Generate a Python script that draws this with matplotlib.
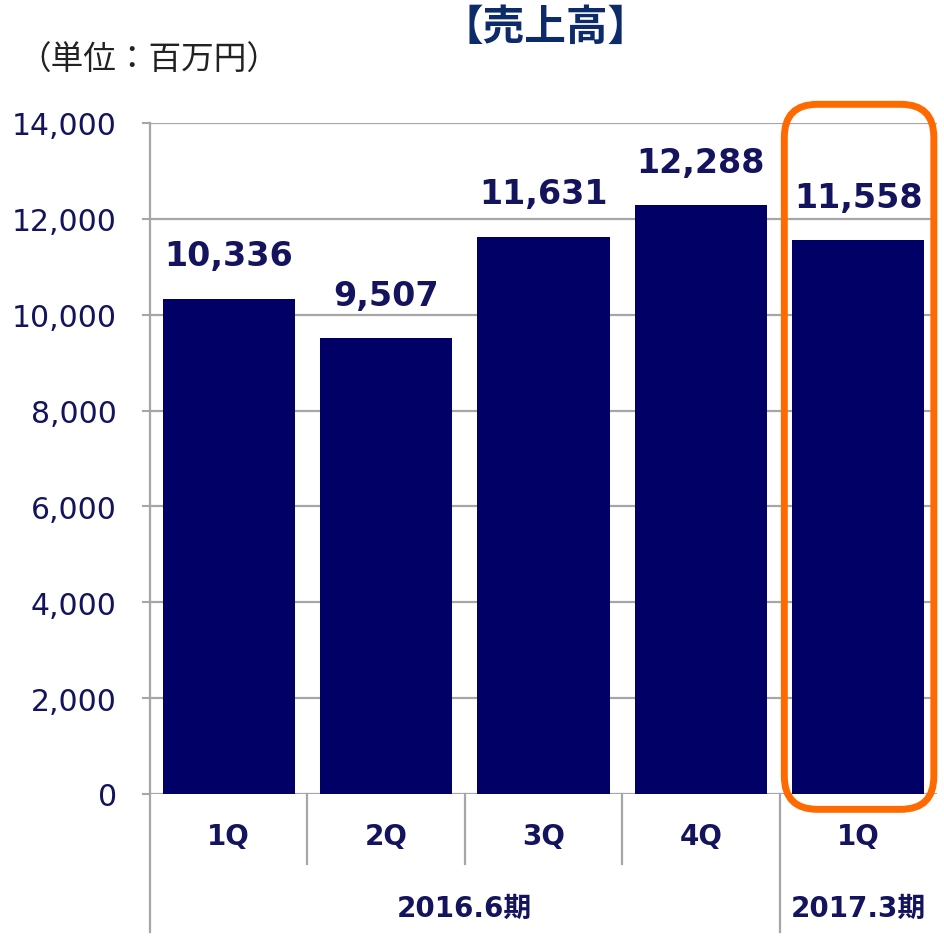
import matplotlib
matplotlib.use('Agg')
import matplotlib.pyplot as plt
from matplotlib.patches import FancyBboxPatch
from matplotlib.lines import Line2D

plt.rcParams['font.family'] = ['DejaVu Sans', 'Noto Sans CJK JP']

quarters = ['1Q', '2Q', '3Q', '4Q', '1Q']
sales = [10336, 9507, 11631, 12288, 11558]
periods = ['2016.6期', '2017.3期']
period_spans = [(0, 3), (4, 4)]
yticks = [0, 2000, 4000, 6000, 8000, 10000, 12000, 14000]

NAVY = '#000066'
TXT = '#14145e'
GRID = '#a6a6a6'

fig = plt.figure(figsize=(9.45, 9.45), dpi=100)
ax = fig.add_axes([150/945, 1-795/945, 787/945, 671/945])

x = list(range(len(sales)))
ax.bar(x, sales, width=0.84, color=NAVY, zorder=3)
for xi, v in zip(x, sales):
    ax.annotate(f'{v:,}', (xi, v), xytext=(0, 19), textcoords='offset points',
                ha='center', va='bottom', fontsize=24, fontweight='bold', color=TXT)

ax.set_xlim(-0.5, len(sales) - 0.5)
ax.set_ylim(0, 14000)
ax.set_yticks(yticks)
ax.set_yticklabels([f'{t:,}' for t in yticks], fontsize=21.5, color=TXT)
ax.tick_params(axis='y', length=6, width=1.5, color=GRID, pad=18)
ax.set_xticks([])
ax.yaxis.grid(True, color=GRID, linewidth=1.6, zorder=0)
for s in ['top', 'right', 'bottom']:
    ax.spines[s].set_visible(False)
ax.spines['left'].set_color(GRID)
ax.spines['left'].set_linewidth(1.6)

# category axis below the plot
tr = ax.get_xaxis_transform()
for xi, q in zip(x, quarters):
    ax.text(xi, -0.062, q, transform=tr, ha='center', va='center',
            fontsize=20, fontweight='bold', color=TXT)
group_starts = [a for a, b in period_spans]
for b in range(1, len(sales)):
    full = b in group_starts
    ax.add_line(Line2D([b - 0.5, b - 0.5], [0, -0.205 if full else -0.105],
                       transform=tr, color=GRID, linewidth=1.6, clip_on=False))
ax.add_line(Line2D([-0.5, -0.5], [0, -0.205], transform=tr, color=GRID,
                   linewidth=1.6, clip_on=False))
for (a, b), p in zip(period_spans, periods):
    ax.text((a + b) / 2, -0.17, p, transform=tr, ha='center', va='center',
            fontsize=20, fontweight='bold', color=TXT)

# highlight box around the latest quarter
fig.canvas.draw()
inv = fig.transFigure.inverted()
x0, y0 = inv.transform(ax.transData.transform((len(sales) - 1.47, -320)))
x1, y1 = inv.transform(ax.transData.transform((len(sales) - 0.52, 14390)))
pad = 0.035
box = FancyBboxPatch((x0 + pad, y0 + pad), x1 - x0 - 2 * pad, y1 - y0 - 2 * pad,
                     boxstyle=f'round,pad={pad}', transform=fig.transFigure,
                     fill=False, edgecolor='#ff6a00', linewidth=5, zorder=5)
fig.patches.append(box)

fig.text(546/945, 1-28/945, '【売上高】', ha='center', va='center', fontsize=30,
         fontweight='bold', color='#0d2b6b')
fig.text(18/945, 1-60/945, '（単位：百万円）', ha='left', va='center', fontsize=23.5,
         color='#222222')

fig.savefig('out.png', dpi=100, facecolor='white')
